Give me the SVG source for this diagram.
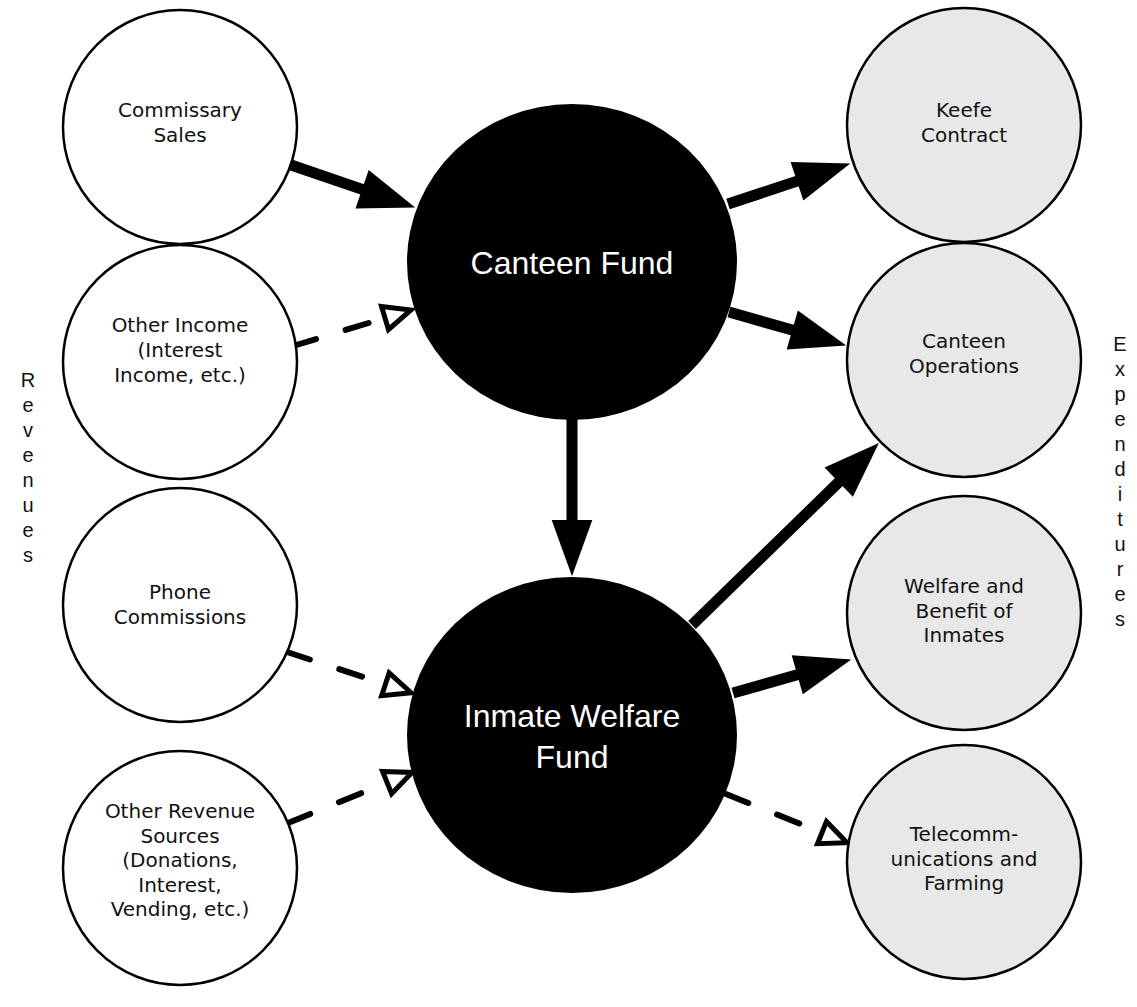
<svg xmlns="http://www.w3.org/2000/svg" width="1137" height="1007" viewBox="0 0 1137 1007">
<style>
.src{fill:#fff;stroke:#000;stroke-width:2.5}
.dst{fill:#e8e8e8;stroke:#000;stroke-width:2.5}
.fund{fill:#000}
.t{font-family:"DejaVu Sans",Verdana,sans-serif;font-size:20px;fill:#111;text-anchor:middle}
.big{font-family:"Liberation Sans",Arial,sans-serif;font-size:32px;fill:#fff;text-anchor:middle}
.side{font-family:"Liberation Sans",Arial,sans-serif;font-size:20px;fill:#111;text-anchor:middle}
.solid{stroke:#000;stroke-width:11;fill:none;marker-end:url(#sh)}
.dash{stroke:#000;stroke-width:6;fill:none;stroke-linecap:round;stroke-dasharray:24 31;marker-end:url(#oh)}
</style>
<defs>
<marker id="sh" markerUnits="userSpaceOnUse" markerWidth="60" markerHeight="46" viewBox="-2 -23 62 46" refX="0" refY="0" orient="auto" overflow="visible">
<path d="M-1,-21 L57,0 L-1,21 z" fill="#000"/>
</marker>
<marker id="oh" markerUnits="userSpaceOnUse" markerWidth="40" markerHeight="34" viewBox="-6 -17 40 34" refX="0" refY="0" orient="auto" overflow="visible">
<path d="M0,-12 L27,0 L0,12 z" fill="#fff" stroke="#000" stroke-width="5"/>
</marker>
</defs>
<g id="connectors">
<line class="solid" x1="291" y1="165" x2="363" y2="189.6"/>
<line class="dash" x1="293" y1="346" x2="385" y2="318"/>
<line class="solid" x1="572" y1="418" x2="572" y2="521"/>
<line class="dash" x1="287" y1="652" x2="385.4" y2="684.3"/>
<line class="dash" x1="288" y1="823" x2="387.1" y2="782.6"/>
<line class="solid" x1="728" y1="204" x2="797.9" y2="180.9"/>
<line class="solid" x1="729" y1="312" x2="793.2" y2="330.3"/>
<line class="solid" x1="692" y1="625" x2="839.4" y2="481.5"/>
<line class="solid" x1="733" y1="693" x2="798.2" y2="674.5"/>
<line class="dash" x1="726" y1="794" x2="822" y2="832.6"/>
</g>
<g id="commissary-sales">
<circle class="src" cx="180" cy="127" r="117"/>
<text class="t" x="180" y="117">Commissary<tspan x="180" dy="25">Sales</tspan></text>
</g>
<g id="other-income">
<circle class="src" cx="180" cy="362" r="117"/>
<text class="t" x="180" y="332">Other Income<tspan x="180" dy="25">(Interest</tspan><tspan x="180" dy="25">Income, etc.)</tspan></text>
</g>
<g id="phone-commissions">
<circle class="src" cx="180" cy="605" r="117"/>
<text class="t" x="180" y="599">Phone<tspan x="180" dy="25">Commissions</tspan></text>
</g>
<g id="other-revenue">
<circle class="src" cx="180" cy="868" r="117"/>
<text class="t" x="180" y="818">Other Revenue<tspan x="180" dy="24.5">Sources</tspan><tspan x="180" dy="24.5">(Donations,</tspan><tspan x="180" dy="24.5">Interest,</tspan><tspan x="180" dy="24.5">Vending, etc.)</tspan></text>
</g>
<g id="canteen-fund">
<ellipse class="fund" cx="572" cy="262" rx="165" ry="158"/>
<text class="big" x="572" y="274">Canteen Fund</text>
</g>
<g id="inmate-welfare-fund">
<ellipse class="fund" cx="572" cy="735" rx="165" ry="158"/>
<text class="big" x="572" y="727">Inmate Welfare<tspan x="572" dy="41">Fund</tspan></text>
</g>
<g id="keefe-contract">
<circle class="dst" cx="964" cy="125" r="117"/>
<text class="t" x="964" y="117">Keefe<tspan x="964" dy="25">Contract</tspan></text>
</g>
<g id="canteen-operations">
<circle class="dst" cx="964" cy="360" r="117"/>
<text class="t" x="964" y="348">Canteen<tspan x="964" dy="25">Operations</tspan></text>
</g>
<g id="welfare-benefit">
<circle class="dst" cx="964" cy="613" r="117"/>
<text class="t" x="964" y="593">Welfare and<tspan x="964" dy="24.5">Benefit of</tspan><tspan x="964" dy="24.5">Inmates</tspan></text>
</g>
<g id="telecom-farming">
<circle class="dst" cx="964" cy="862" r="117"/>
<text class="t" x="964" y="841">Telecomm-<tspan x="964" dy="24.5">unications and</tspan><tspan x="964" dy="24.5">Farming</tspan></text>
</g>
<g id="revenues-label">
<text class="side" x="28" y="387">R<tspan x="28" dy="25">e</tspan><tspan x="28" dy="25">v</tspan><tspan x="28" dy="25">e</tspan><tspan x="28" dy="25">n</tspan><tspan x="28" dy="25">u</tspan><tspan x="28" dy="25">e</tspan><tspan x="28" dy="25">s</tspan></text>
</g>
<g id="expenditures-label">
<text class="side" x="1120" y="351">E<tspan x="1120" dy="25">x</tspan><tspan x="1120" dy="25">p</tspan><tspan x="1120" dy="25">e</tspan><tspan x="1120" dy="25">n</tspan><tspan x="1120" dy="25">d</tspan><tspan x="1120" dy="25">i</tspan><tspan x="1120" dy="25">t</tspan><tspan x="1120" dy="25">u</tspan><tspan x="1120" dy="25">r</tspan><tspan x="1120" dy="25">e</tspan><tspan x="1120" dy="25">s</tspan></text>
</g>
</svg>
